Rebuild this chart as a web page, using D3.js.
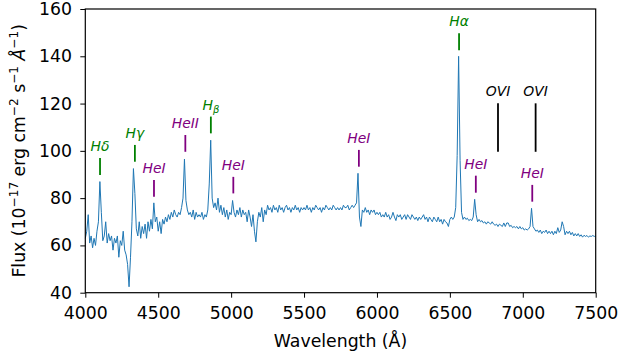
<!DOCTYPE html>
<html>
<head>
<meta charset="utf-8">
<script src="https://cdn.jsdelivr.net/npm/d3@7/dist/d3.min.js"></script>
<style>
  body { margin: 0; background: #fff; }
  svg { display: block; }
</style>
</head>
<body>
<div id="chart"></div>
<script>
// spectrum sampled every 10 A from 4000 A, flux in 1e-17 erg/cm2/s/A
const waveStart = 4000;
const waveStep = 10;
const flux = [
  63, 66, 73, 61, 64, 59, 63, 60, 66, 70,
  87, 74, 62, 64, 70, 61, 65, 62, 64, 58,
  63, 61, 64, 55, 62, 60, 66, 58, 56, 52,
  42.5, 55, 70, 92.5, 82, 67, 64, 70, 63, 68,
  65, 69, 63, 70, 66, 71, 67, 78, 70, 72,
  66, 70, 65, 71, 69, 72, 70, 73, 71, 74,
  72, 75, 73, 72, 74, 73, 76, 80, 96.5, 79,
  75, 73, 74, 72, 75, 71, 74, 72, 73, 72,
  74, 71, 73, 72, 75, 86, 104.5, 80, 76, 78,
  75, 80, 74, 77, 73, 76, 72, 75, 71, 74,
  73, 79, 74, 72, 75, 73, 76, 72, 75, 73,
  74, 70, 75, 72, 68, 73, 66, 61.5, 70, 74,
  72, 76, 70, 75, 73, 77, 75, 76, 74, 77,
  75, 76, 74, 77, 75, 76, 74, 76, 77, 75,
  76, 74, 76, 75, 77, 75, 76, 74, 76, 75,
  76, 75, 77, 75, 76, 74, 76, 75, 77, 76,
  75, 76, 74, 76, 75, 77, 76, 75, 76, 75,
  77, 76, 75, 76, 75, 76, 75, 77, 76, 76,
  77, 75, 76, 77, 76, 77, 78, 90.5, 72, 68,
  75, 74, 76, 74, 75, 73, 75, 74, 75, 73,
  74, 73, 74, 72, 73, 72, 74, 72, 73, 71,
  72, 74, 72, 70.5, 73, 72, 73, 71, 72, 73,
  71, 73, 72, 71, 73, 72, 71, 72, 70.5, 72,
  71, 72, 73, 71, 72, 70, 72, 71, 70, 72,
  71, 70, 72, 70, 71, 69, 71, 70, 69.5, 68,
  71, 72, 71, 72, 76, 98, 140, 96, 74, 71,
  72, 71, 71.5, 70.5, 71, 70.5, 72, 79.5, 73, 70,
  71, 70, 70.5, 69.5, 70, 69, 70, 69.5, 69, 70,
  69, 68.5, 69, 68, 69, 68.5, 68, 69.5, 68, 69.5,
  69.5, 68, 68.5, 67.5, 68, 67.5, 68, 67, 68, 67,
  67.5, 66.5, 67, 66.5, 67, 68, 75.7, 68, 67, 66,
  66.5, 65.5, 66.5, 65, 66, 65.5, 66.5, 65, 66, 65,
  66, 64.5, 66, 65, 67.5, 65.5, 66.5, 70, 68, 64.5,
  66, 65, 66, 64.5, 65.5, 64, 65, 64, 65, 63.8,
  64.5, 63.5, 64.3, 63.8, 64.2, 63.5, 64, 63.8, 64.2, 63.8,
  64
];
const wavelength = flux.map((_, i) => waveStart + i * waveStep);

// identified lines: name, rest wavelength, marker span (flux units), element
const lineNames = ["Hδ", "Hγ", "HeI", "HeII", "H_β", "HeI", "HeI", "Hα", "HeI", "OVI", "OVI", "HeI"];
const lineWave  = [4101, 4340, 4471, 4686, 4861, 5015, 5876, 6563, 6678, 6830, 7088, 7065];
const lineLow   = [89.8, 95.4, 80.6, 99.6, 107.4, 82, 93.3, 142.6, 82.3, 99.6, 99.6, 78.5];
const lineHigh  = [97, 102.5, 87.7, 106.7, 114.5, 89, 100.4, 149.7, 89.5, 120.1, 120.1, 85.6];
const lineKind  = ["H", "H", "He", "He", "H", "He", "He", "H", "He", "O", "O", "He"];

const xTicks = [4000, 4500, 5000, 5500, 6000, 6500, 7000, 7500];
const yTicks = [40, 60, 80, 100, 120, 140, 160];

const width = 622, height = 360;
const margin = { top: 9, right: 26.3, bottom: 67.3, left: 85.3 };
const font = "'DejaVu Sans', sans-serif";
const kindColor = { H: "green", He: "purple", O: "black" };

const svg = d3.select("#chart").append("svg")
  .attr("width", width)
  .attr("height", height);

const x = d3.scaleLinear()
  .domain([4000, 7500])
  .range([margin.left, width - margin.right]);
const y = d3.scaleLinear()
  .domain([40, 160])
  .range([height - margin.bottom, margin.top]);

// spectrum
const line = d3.line()
  .x((d, i) => x(wavelength[i]))
  .y(d => y(d));

svg.append("path")
  .datum(flux)
  .attr("fill", "none")
  .attr("stroke", "#1f77b4")
  .attr("stroke-width", 1)
  .attr("stroke-linejoin", "round")
  .attr("d", line);

// axes
const xAxis = svg.append("g")
  .attr("transform", `translate(0,${height - margin.bottom})`)
  .call(d3.axisBottom(x).tickValues(xTicks).tickFormat(d3.format("d")).tickSize(5).tickPadding(9).tickSizeOuter(0));
const yAxis = svg.append("g")
  .attr("transform", `translate(${margin.left},0)`)
  .call(d3.axisLeft(y).tickValues(yTicks).tickFormat(d3.format("d")).tickSize(5).tickPadding(8.3).tickSizeOuter(0));

[xAxis, yAxis].forEach(g => {
  g.select(".domain").remove();
  g.selectAll(".tick line").attr("stroke", "#000").attr("stroke-width", 1);
  g.selectAll(".tick text")
    .attr("fill", "#000")
    .style("font-family", font)
    .style("font-size", "17.3px");
});

// frame
svg.append("rect")
  .attr("x", margin.left)
  .attr("y", margin.top)
  .attr("width", width - margin.left - margin.right)
  .attr("height", height - margin.top - margin.bottom)
  .attr("fill", "none")
  .attr("stroke", "#000")
  .attr("stroke-width", 1.2);

// line markers + labels
lineNames.forEach((name, i) => {
  const lx = x(lineWave[i]);
  const color = kindColor[lineKind[i]];
  svg.append("line")
    .attr("x1", lx).attr("x2", lx)
    .attr("y1", y(lineLow[i])).attr("y2", y(lineHigh[i]))
    .attr("stroke", color)
    .attr("stroke-width", 1.8);

  const t = svg.append("text")
    .attr("x", lx)
    .attr("y", y(lineHigh[i]) - 7)
    .attr("text-anchor", "middle")
    .attr("fill", color)
    .style("font-family", font)
    .style("font-style", "italic")
    .style("font-size", "13.9px");
  const parts = name.split("_");
  t.append("tspan").text(parts[0]);
  if (parts[1]) {
    t.append("tspan").attr("dy", 3).style("font-size", "10px").text(parts[1]);
  }
});

// axis titles
svg.append("text")
  .attr("x", (margin.left + width - margin.right) / 2)
  .attr("y", 347)
  .attr("text-anchor", "middle")
  .style("font-family", font)
  .style("font-size", "17.3px")
  .text("Wavelength (Å)");

const yl = svg.append("text")
  .attr("transform", `translate(25,${(margin.top + height - margin.bottom) / 2}) rotate(-90)`)
  .attr("text-anchor", "middle")
  .style("font-family", font)
  .style("font-size", "17.3px");

const ylParts = [
  ["Flux (10", 0], ["−17", 1], [" erg cm", 0], ["−2", 1], [" s", 0], ["−1", 1], [" Å", 2], ["−1", 1], [")", 0]
];
let raised = false;
ylParts.forEach(([txt, kind]) => {
  const ts = yl.append("tspan").text(txt);
  if (kind === 1) {
    ts.attr("dy", -7).style("font-size", "12.1px");
    raised = true;
  } else {
    if (raised) ts.attr("dy", 7);
    raised = false;
    if (kind === 2) ts.style("font-style", "italic");
  }
});
</script>
</body>
</html>
